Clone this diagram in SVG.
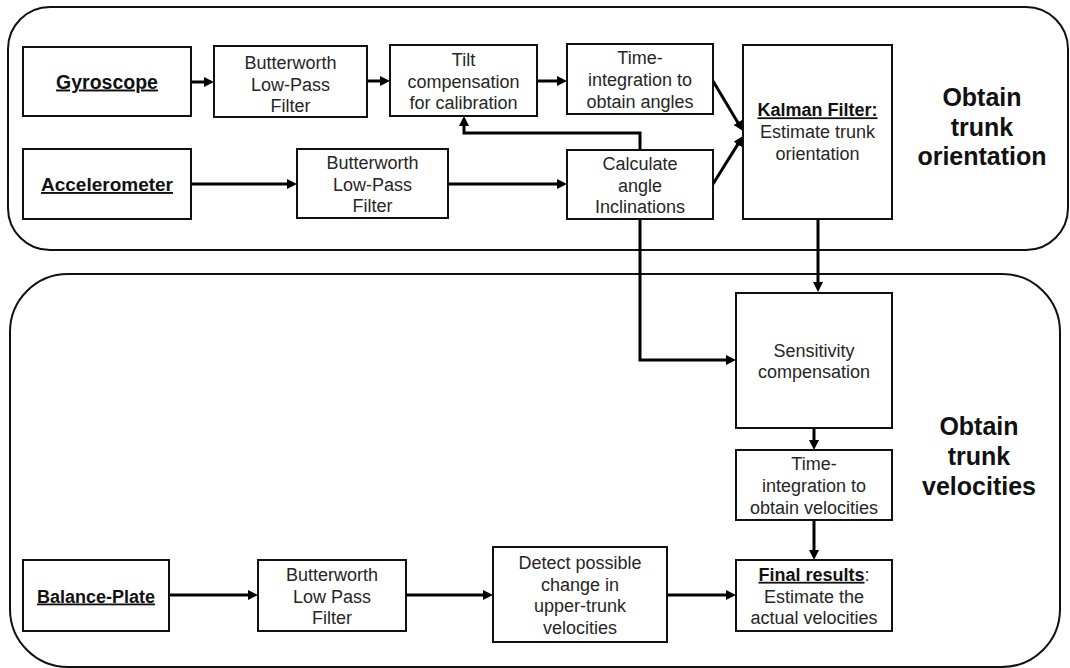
<svg xmlns="http://www.w3.org/2000/svg" width="1070" height="668" viewBox="0 0 1070 668">
  <defs>
    <style>
      .bg { fill: #ffffff; }
      .panel { fill: none; stroke: #111; stroke-width: 2; }
      .box { fill: #ffffff; stroke: #111; stroke-width: 2; }
      .link { fill: none; stroke: #000; stroke-width: 3; marker-end: url(#arrow); }
      .t { font-family: "Liberation Sans", Arial, sans-serif; font-size: 18px; fill: #262626; text-anchor: middle; }
      .src { font-family: "Liberation Sans", Arial, sans-serif; font-size: 19px; font-weight: bold; fill: #111; text-anchor: middle; text-decoration: underline; }
      .hd { font-weight: bold; fill: #111; text-decoration: underline; }
      .title { font-family: "Liberation Sans", Arial, sans-serif; font-size: 25px; font-weight: bold; fill: #111; text-anchor: middle; }
    </style>
    <marker id="arrow" markerUnits="userSpaceOnUse" markerWidth="10" markerHeight="10" refX="4" refY="5" orient="auto">
      <path d="M0,0 L10,5 L0,10 z" fill="#000"/>
    </marker>
  </defs>

  <rect class="bg" x="0" y="0" width="1070" height="668"/>

  <!-- stage panels -->
  <g id="panel-orientation">
    <rect class="panel" x="8" y="7" width="1060" height="243" rx="42" ry="42"/>
    <text class="title" x="982" y="106">Obtain</text>
    <text class="title" x="982" y="135.5">trunk</text>
    <text class="title" x="982" y="165">orientation</text>
  </g>
  <g id="panel-velocities">
    <rect class="panel" x="10" y="274" width="1050" height="393" rx="58" ry="58"/>
    <text class="title" x="979" y="435">Obtain</text>
    <text class="title" x="979" y="465">trunk</text>
    <text class="title" x="979" y="495">velocities</text>
  </g>

  <!-- connectors -->
  <g id="connectors">
    <path class="link" d="M191,82 H208"/>
    <path class="link" d="M367,81 H384"/>
    <path class="link" d="M537,81 H561"/>
    <path class="link" d="M191,184 H291"/>
    <path class="link" d="M448,184 H561"/>
    <path class="link" d="M640,150 V133 H464 V122"/>
    <path class="link" d="M713,81 L739.9,125.9"/>
    <path class="link" d="M713,184 L739.8,141.1"/>
    <path class="link" d="M818,219 V286"/>
    <path class="link" d="M640,219 V360 H730"/>
    <path class="link" d="M814,428 V444"/>
    <path class="link" d="M814,520 V554"/>
    <path class="link" d="M169,595 H252"/>
    <path class="link" d="M406,595 H487"/>
    <path class="link" d="M667,595 H730"/>
  </g>

  <!-- orientation stage -->
  <g id="gyroscope">
    <rect class="box" x="23" y="47" width="168" height="69"/>
    <text class="src" x="107" y="88.5" style="font-size:19.5px">Gyroscope</text>
  </g>
  <g id="lowpass-gyro">
    <rect class="box" x="214" y="46" width="153" height="71"/>
    <text class="t" x="290.5" y="68.8">Butterworth</text>
    <text class="t" x="290.5" y="90.5">Low-Pass</text>
    <text class="t" x="290.5" y="112.2">Filter</text>
  </g>
  <g id="tilt-compensation">
    <rect class="box" x="390" y="45" width="147" height="71"/>
    <text class="t" x="463.5" y="65.8">Tilt</text>
    <text class="t" x="463.5" y="87.5">compensation</text>
    <text class="t" x="463.5" y="109.2">for calibration</text>
  </g>
  <g id="integrate-angles">
    <rect class="box" x="567" y="44" width="146" height="70"/>
    <text class="t" x="640" y="64.3">Time-</text>
    <text class="t" x="640" y="86">integration to</text>
    <text class="t" x="640" y="107.7">obtain angles</text>
  </g>
  <g id="accelerometer">
    <rect class="box" x="23" y="149" width="168" height="70"/>
    <text class="src" x="107" y="191">Accelerometer</text>
  </g>
  <g id="lowpass-accel">
    <rect class="box" x="297" y="149" width="151" height="69"/>
    <text class="t" x="372.5" y="168.8">Butterworth</text>
    <text class="t" x="372.5" y="190.5">Low-Pass</text>
    <text class="t" x="372.5" y="212.2">Filter</text>
  </g>
  <g id="angle-inclinations">
    <rect class="box" x="567" y="150" width="146" height="69"/>
    <text class="t" x="640" y="169.8">Calculate</text>
    <text class="t" x="640" y="191.5">angle</text>
    <text class="t" x="640" y="213.2">Inclinations</text>
  </g>
  <g id="kalman-filter">
    <rect class="box" x="743" y="45" width="149" height="174"/>
    <text class="t" x="817.5" y="116.3"><tspan class="hd">Kalman Filter:</tspan></text>
    <text class="t" x="817.5" y="138">Estimate trunk</text>
    <text class="t" x="817.5" y="159.7">orientation</text>
  </g>

  <!-- velocity stage -->
  <g id="sensitivity-compensation">
    <rect class="box" x="736" y="293" width="156" height="135"/>
    <text class="t" x="814" y="356.6">Sensitivity</text>
    <text class="t" x="814" y="378.3">compensation</text>
  </g>
  <g id="integrate-velocities">
    <rect class="box" x="736" y="450" width="156" height="70"/>
    <text class="t" x="814" y="470.3">Time-</text>
    <text class="t" x="814" y="492">integration to</text>
    <text class="t" x="814" y="513.7">obtain velocities</text>
  </g>
  <g id="final-results">
    <rect class="box" x="736" y="560" width="156" height="71"/>
    <text class="t" x="814" y="580.8"><tspan class="hd">Final results</tspan>:</text>
    <text class="t" x="814" y="602.5">Estimate the</text>
    <text class="t" x="814" y="624.2">actual velocities</text>
  </g>
  <g id="balance-plate">
    <rect class="box" x="23" y="560" width="146" height="71"/>
    <text class="src" x="96" y="602.5" style="font-size:18px">Balance-Plate</text>
  </g>
  <g id="lowpass-plate">
    <rect class="box" x="258" y="560" width="148" height="71"/>
    <text class="t" x="332" y="580.8">Butterworth</text>
    <text class="t" x="332" y="602.5">Low Pass</text>
    <text class="t" x="332" y="624.2">Filter</text>
  </g>
  <g id="detect-change">
    <rect class="box" x="493" y="547" width="174" height="95"/>
    <text class="t" x="580" y="569">Detect possible</text>
    <text class="t" x="580" y="590.7">change in</text>
    <text class="t" x="580" y="612.4">upper-trunk</text>
    <text class="t" x="580" y="634.1">velocities</text>
  </g>
</svg>
